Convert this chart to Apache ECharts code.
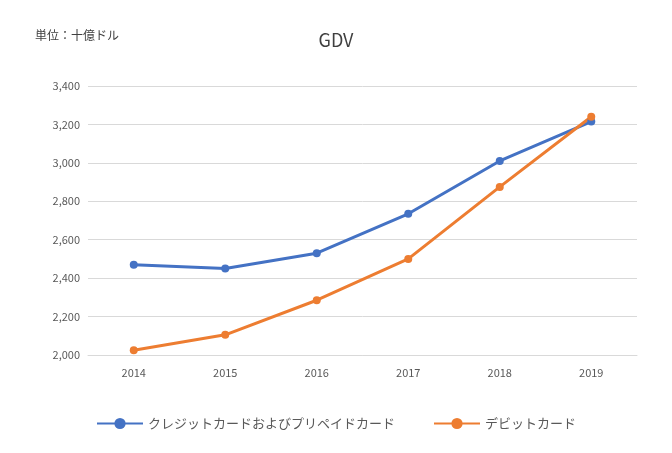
<!DOCTYPE html>
<html><head><meta charset="utf-8">
<script src="https://cdn.jsdelivr.net/npm/echarts@6/dist/echarts.min.js"></script>
<style>html,body{margin:0;padding:0;background:#fff}#c{width:672px;height:453px}</style>
</head><body><div id="c"></div>
<script>
const categories=['2014','2015','2016','2017','2018','2019'];
const credit=[2470,2450,2530,2735,3010,3215];
const debit=[2025,2105,2285,2500,2875,3240];
const seriesNames=['クレジットカードおよびプリペイドカード','デビットカード'];
const f='"Noto Sans CJK JP", sans-serif';
const ch=echarts.init(document.getElementById('c'));
ch.setOption({
 animation:false,
 title:[{text:'GDV',left:'center',top:26,textStyle:{fontFamily:f,fontSize:18,fontWeight:'normal',color:'#404040'}},
        {text:'単位：十億ドル',left:30,top:24,textStyle:{fontFamily:f,fontSize:12,fontWeight:'normal',color:'#404040'}}],
 legend:{bottom:18,itemGap:38,itemWidth:46,textStyle:{fontFamily:f,fontSize:13,color:'#595959'},data:seriesNames},
 grid:{left:88,right:35,top:86,bottom:98},
 xAxis:{type:'category',data:categories,boundaryGap:true,axisTick:{show:false},axisLine:{lineStyle:{color:'#d9d9d9'}},axisLabel:{color:'#595959',fontFamily:f,fontSize:11,margin:12}},
 yAxis:{type:'value',min:2000,max:3400,interval:200,axisLabel:{color:'#595959',fontFamily:f,fontSize:11,formatter:v=>v.toLocaleString('en-US')},splitLine:{lineStyle:{color:'#d9d9d9'}}},
 series:[
  {name:seriesNames[0],type:'line',data:credit,color:'#4472c4',symbol:'circle',symbolSize:8,lineStyle:{width:3}},
  {name:seriesNames[1],type:'line',data:debit,color:'#ed7d31',symbol:'circle',symbolSize:8,lineStyle:{width:3}}
 ]
});
</script></body></html>
